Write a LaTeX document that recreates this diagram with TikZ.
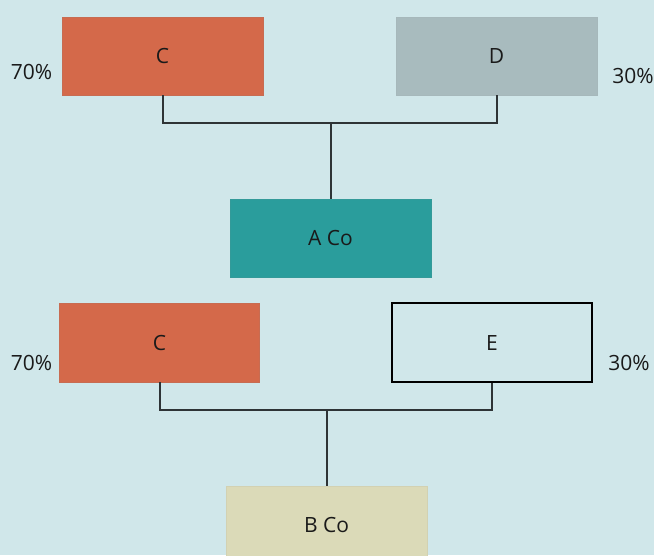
\documentclass[tikz,border=0pt]{standalone}
\usepackage{fontspec}
\setmainfont{Open Sans}
\definecolor{bg}{HTML}{D0E7EA}
\definecolor{corange}{HTML}{D4694A}
\definecolor{dgray}{HTML}{A8BBBE}
\definecolor{ateal}{HTML}{2A9D9C}
\definecolor{bbeige}{HTML}{DBDAB8}
\definecolor{lineclr}{HTML}{2E3436}
\definecolor{txt}{HTML}{1A1A1A}
\begin{document}
\begin{tikzpicture}[x=1pt,y=-1pt,
  box/.style={rectangle,minimum width=201pt,minimum height=78pt,inner sep=0pt,
    font=\fontsize{21}{24}\selectfont,text=txt},
  pct/.style={font=\fontsize{21}{24}\selectfont,text=txt,inner sep=0pt},
  conn/.style={draw=lineclr,line width=2pt}]
\fill[bg] (0,0) rectangle (654,555);
\useasboundingbox (0,0) rectangle (654,555);
% top group
\node[box,fill=corange,draw=corange!85!gray] (c1) at (162.5,56) {C};
\node[box,fill=dgray,draw=dgray!95!gray] (d) at (496.5,56) {D};
\node[box,fill=ateal,draw=ateal!90!gray] (a) at (330.5,238) {A Co};
\node[pct] (p1) at (31.5,72) {70\%};
\node[pct] (p2) at (633,76) {30\%};
\coordinate (j1) at (330.5,123);
\draw[conn] (c1.south) |- (j1) -| (d.south);
\draw[conn] (j1) -- (a.north);
% bottom group
\node[box,fill=corange,draw=corange!85!gray,minimum width=200pt,minimum height=79pt] (c2) at (159.5,342.5) {C};
\node[box,fill=bg,draw=black,line width=1.6pt,minimum width=200pt,minimum height=79pt] (e) at (492,342.5) {E};
\node[box,fill=bbeige,draw=bbeige!90!gray] (b) at (326.5,525) {B Co};
\node[pct] (p3) at (31.5,363) {70\%};
\node[pct] (p4) at (629,363) {30\%};
\coordinate (j2) at (326.5,410);
\draw[conn] (c2.south) |- (j2) -| (e.south);
\draw[conn] (j2) -- (b.north);
\end{tikzpicture}
\end{document}
